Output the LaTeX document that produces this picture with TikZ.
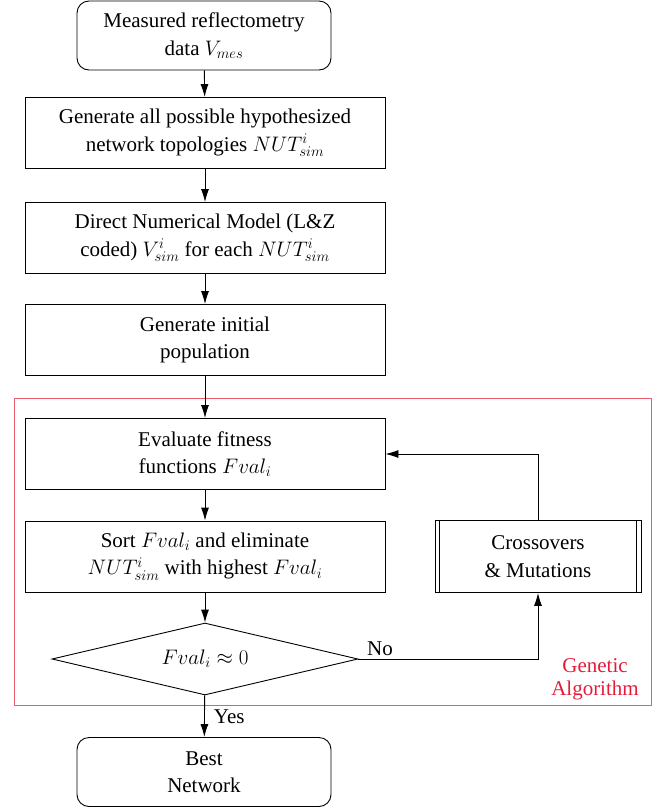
\documentclass[tikz,border=0pt]{standalone}
\usepackage{fix-cm}
\usepackage{fontspec}
\setmainfont{Liberation Serif}
\usetikzlibrary{shapes.geometric,arrows.meta}
\definecolor{gared}{RGB}{228,28,58}
\definecolor{gaframe}{RGB}{236,90,110}
\tikzset{
  base/.style={draw, line width=0.9pt, align=center, inner sep=0pt, font=\fontsize{21}{27.5}\selectfont},
  roundbox/.style={base, rounded corners=12pt, minimum width=254pt, minimum height=69pt},
  procbox/.style={base, minimum width=360pt, minimum height=71pt},
  decis/.style={base, diamond, shape aspect=4.25, minimum width=306pt, minimum height=72pt},
  sidebox/.style={base, minimum width=206pt, minimum height=72pt},
  arr/.style={line width=0.9pt, -{Latex[length=13pt,width=8pt]}},
  lbl/.style={font=\fontsize{21}{26}\selectfont, inner sep=0pt},
}
\begin{document}
\begin{tikzpicture}[x=1pt,y=-1pt]
\useasboundingbox (0,0) rectangle (667,809);
\draw[gaframe, line width=0.9pt] (14,398) rectangle (651,705);
\node[roundbox] (meas) at (204,35.5) {Measured reflectometry\\data $V_{mes}$};
\node[procbox] (gen) at (205,133) {Generate all possible hypothesized\\network topologies $NUT^i_{sim}$};
\node[procbox] (dnm) at (205,238) {Direct Numerical Model (L\&Z\\coded) $V^i_{sim}$ for each $NUT^i_{sim}$};
\node[procbox] (init) at (205,340) {Generate initial\\population};
\node[procbox] (eval) at (205,454) {Evaluate fitness\\functions $Fval_i$};
\node[procbox] (sort) at (205,556.5) {Sort $Fval_i$ and eliminate\\$NUT^i_{sim}$ with highest $Fval_i$};
\node[decis] (dec) at (205,659) {$Fval_i\approx 0$};
\node[sidebox] (cross) at (538,556.5) {Crossovers\\\& Mutations};
\draw[line width=0.9pt] ([xshift=5pt]cross.north west) -- ([xshift=5pt]cross.south west);
\draw[line width=0.9pt] ([xshift=-5pt]cross.north east) -- ([xshift=-5pt]cross.south east);
\node[roundbox] (best) at (204,772) {Best\\Network};
\node[lbl, text=gared, align=center, font=\fontsize{21}{23}\selectfont] (ga) at (595,679) {Genetic\\Algorithm};

\draw[arr] (meas) -- (gen);
\draw[arr] (gen) -- (dnm);
\draw[arr] (dnm) -- (init);
\draw[arr] (init) -- (eval);
\draw[arr] (eval) -- (sort);
\draw[arr] (sort) -- (dec);
\draw[arr] (dec) -- node[lbl, right=9pt, pos=0.52] {Yes} (best);
\draw[arr] (dec.east) -- node[lbl, above=3pt, pos=0.12] {No} (dec.east -| cross.south) -- (cross.south);
\draw[arr] (cross.north) |- (eval.east);
\end{tikzpicture}
\end{document}
